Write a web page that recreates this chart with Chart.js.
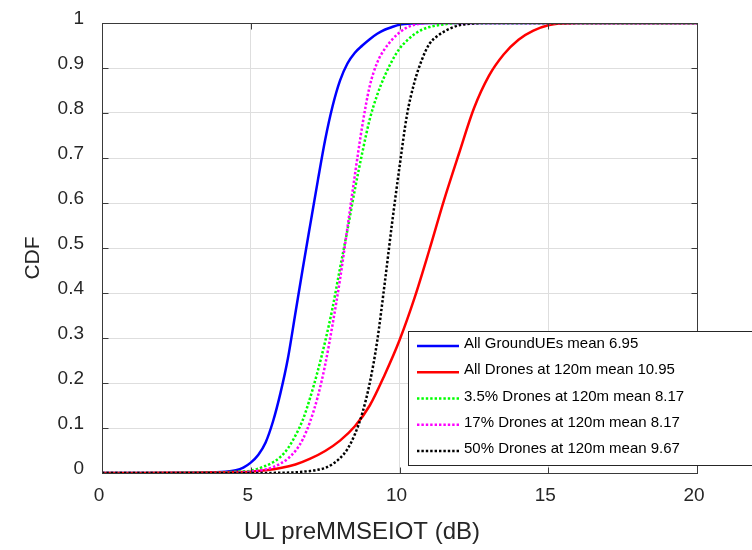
<!DOCTYPE html>
<html><head><meta charset="utf-8">
<script src="https://cdn.jsdelivr.net/npm/chart.js@4.4.0/dist/chart.umd.min.js"></script>
<style>html,body{margin:0;padding:0;background:#fff}canvas{display:block}</style>
</head><body>
<canvas id="c" width="752" height="550"></canvas>
<script>
// ---- data (x in dB, y = CDF) ----
const groundUEsX = [0, 2, 3, 4, 4.5, 4.75, 5, 5.25, 5.5, 5.75, 6, 6.25, 6.5, 6.75, 7, 7.25, 7.5, 7.75, 8, 8.25, 8.5, 8.75, 9, 9.25, 9.5, 9.75, 10, 10.5, 11, 20];
const groundUEsY = [0, 0.0002, 0.0006, 0.002, 0.006, 0.012, 0.023, 0.04, 0.068, 0.115, 0.178, 0.255, 0.355, 0.455, 0.552, 0.648, 0.74, 0.815, 0.872, 0.91, 0.934, 0.95, 0.964, 0.976, 0.985, 0.991, 0.996, 0.999, 1, 1];

const drones120X = [0, 1, 2, 3, 4, 4.5, 5, 5.5, 6, 6.5, 7, 7.5, 8, 8.5, 9, 9.5, 10, 10.5, 11, 11.5, 12, 12.5, 13, 13.5, 14, 14.5, 15, 15.5, 16, 20];
const drones120Y = [0, 0.0002, 0.0004, 0.0008, 0.0015, 0.002, 0.003, 0.006, 0.011, 0.019, 0.032, 0.049, 0.072, 0.104, 0.15, 0.218, 0.295, 0.388, 0.495, 0.607, 0.71, 0.81, 0.882, 0.93, 0.963, 0.983, 0.995, 0.999, 1, 1];

const drones3p5X = [0, 2, 3, 4, 4.5, 5, 5.5, 5.75, 6, 6.25, 6.5, 6.75, 7, 7.25, 7.5, 7.75, 8, 8.25, 8.5, 8.75, 9, 9.25, 9.5, 9.75, 10, 10.25, 10.5, 10.75, 11, 11.5, 12, 20];
const drones3p5Y = [0, 0, 0.0005, 0.001, 0.003, 0.005, 0.016, 0.024, 0.036, 0.055, 0.083, 0.118, 0.168, 0.226, 0.292, 0.367, 0.455, 0.54, 0.63, 0.712, 0.786, 0.84, 0.882, 0.916, 0.943, 0.961, 0.975, 0.985, 0.991, 0.997, 1, 1];

const drones17X = [0, 3, 4, 4.5, 5, 5.5, 5.75, 6, 6.25, 6.5, 6.75, 7, 7.25, 7.5, 7.75, 8, 8.25, 8.5, 8.75, 9, 9.25, 9.5, 9.75, 10, 10.25, 10.5, 11, 20];
const drones17Y = [0, 0, 0.0005, 0.001, 0.003, 0.008, 0.013, 0.021, 0.032, 0.049, 0.075, 0.115, 0.169, 0.24, 0.33, 0.43, 0.545, 0.662, 0.772, 0.86, 0.912, 0.942, 0.963, 0.979, 0.99, 0.996, 1, 1];

const drones50X = [0, 5, 6, 6.5, 7, 7.25, 7.5, 7.75, 8, 8.25, 8.5, 8.75, 9, 9.25, 9.5, 9.75, 10, 10.25, 10.5, 10.75, 11, 11.25, 11.5, 11.75, 12, 12.5, 13, 20];
const drones50Y = [0, 0, 0.0005, 0.0015, 0.0045, 0.007, 0.011, 0.02, 0.033, 0.053, 0.086, 0.133, 0.2, 0.293, 0.42, 0.555, 0.68, 0.795, 0.868, 0.918, 0.953, 0.97, 0.981, 0.989, 0.995, 0.999, 1, 1];

const seriesLabels = ['All GroundUEs mean 6.95', 'All Drones at 120m mean 10.95', '3.5% Drones at 120m mean 8.17', '17% Drones at 120m mean 8.17', '50% Drones at 120m mean 9.67'];
const xTickValues  = [0, 5, 10, 15, 20];
const yTickValues  = [0, 0.1, 0.2, 0.3, 0.4, 0.5, 0.6, 0.7, 0.8, 0.9, 1];
const xTitle = 'UL preMMSEIOT (dB)';
const yTitle = 'CDF';

const FONT = '"Liberation Sans", Arial, Helvetica, sans-serif';
const toPts = (xs, ys) => xs.map((x, i) => ({x: x, y: ys[i]}));

const styles = [
  {color: '#0000ff', dash: [],       order: 5},
  {color: '#ff0000', dash: [],       order: 4},
  {color: '#00ff00', dash: [2.4, 2], order: 3},
  {color: '#ff00ff', dash: [2.4, 2], order: 2},
  {color: '#000000', dash: [2.4, 2], order: 1}
];
const seriesXY = [[groundUEsX, groundUEsY], [drones120X, drones120Y], [drones3p5X, drones3p5Y], [drones17X, drones17Y], [drones50X, drones50Y]];

const datasets = seriesXY.map((s, i) => ({
  label: seriesLabels[i],
  data: toPts(s[0], s[1]),
  borderColor: styles[i].color,
  backgroundColor: styles[i].color,
  borderDash: styles[i].dash,
  borderWidth: 2.5,
  borderCapStyle: 'butt',
  pointRadius: 0,
  fill: false,
  cubicInterpolationMode: 'monotone',
  order: styles[i].order
}));

const framePlugin = {
  id: 'frame',
  afterDatasetsDraw(chart) {
    const {ctx, chartArea: a, scales: {x, y}} = chart;
    const L = Math.round(a.left) + 0.5, R = Math.round(a.right) + 0.5;
    const T = Math.round(a.top) + 0.5, B = Math.round(a.bottom) + 0.5;
    ctx.save();
    ctx.strokeStyle = '#3a3a3a';
    ctx.lineWidth = 1;
    ctx.strokeRect(L, T, R - L, B - T);
    ctx.beginPath();
    const tl = 6;
    xTickValues.forEach(v => {
      const px = Math.round(x.getPixelForValue(v)) + 0.5;
      ctx.moveTo(px, B); ctx.lineTo(px, B - tl);
      ctx.moveTo(px, T); ctx.lineTo(px, T + tl);
    });
    yTickValues.forEach(v => {
      const py = Math.round(y.getPixelForValue(v)) + 0.5;
      ctx.moveTo(L, py); ctx.lineTo(L + tl, py);
      ctx.moveTo(R, py); ctx.lineTo(R - tl, py);
    });
    ctx.stroke();
    ctx.restore();
  },
  afterDraw(chart) {
    const ctx = chart.ctx;
    ctx.save();
    ctx.fillStyle = '#262626';
    ctx.textAlign = 'center';
    ctx.textBaseline = 'middle';
    ctx.font = '24px ' + FONT;
    ctx.fillText(xTitle, 362, 532);
    ctx.translate(33, 258);
    ctx.rotate(-Math.PI / 2);
    ctx.font = '21px ' + FONT;
    ctx.fillText(yTitle, 0, 0);
    ctx.restore();

    ctx.save();
    const x0 = 408.5, y0 = 331.5, w = 400, h = 134;
    ctx.fillStyle = '#ffffff';
    ctx.fillRect(x0, y0, w, h);
    ctx.strokeStyle = '#262626';
    ctx.lineWidth = 1;
    ctx.strokeRect(x0, y0, w, h);
    chart.data.datasets.forEach((ds, i) => {
      const ly = 346 + i * 26.25;
      ctx.strokeStyle = ds.borderColor;
      ctx.lineWidth = ds.borderWidth;
      ctx.setLineDash(ds.borderDash || []);
      ctx.beginPath();
      ctx.moveTo(417, ly); ctx.lineTo(459, ly);
      ctx.stroke();
      ctx.setLineDash([]);
      ctx.fillStyle = '#000000';
      ctx.font = '15px ' + FONT;
      ctx.textAlign = 'left';
      ctx.textBaseline = 'middle';
      ctx.fillText(ds.label, 464, ly - 2);
    });
    ctx.restore();
  }
};

const noPad = s => { s.paddingTop = 0; s.paddingBottom = 0; s.paddingLeft = 0; s.paddingRight = 0; };

new Chart(document.getElementById('c'), {
  type: 'line',
  data: {datasets: datasets},
  options: {
    responsive: false,
    animation: false,
    layout: {padding: {top: 23, right: 55, left: 0, bottom: 0}},
    plugins: {legend: {display: false}, tooltip: {enabled: false}, title: {display: false}},
    scales: {
      x: {
        type: 'linear', min: 0, max: 20,
        afterBuildTicks: s => { s.ticks = xTickValues.map(v => ({value: v})); },
        afterFit: s => { s.height = 77; noPad(s); },
        grid: {color: '#dedede', lineWidth: 1, drawTicks: false},
        border: {display: false},
        ticks: {padding: 11, labelOffset: -3, color: '#262626', font: {family: FONT, size: 19}, maxRotation: 0,
                callback: v => String(v)}
      },
      y: {
        type: 'linear', min: 0, max: 1,
        afterBuildTicks: s => { s.ticks = yTickValues.map(v => ({value: v})); },
        afterFit: s => { s.width = 102; noPad(s); },
        grid: {color: '#dedede', lineWidth: 1, drawTicks: false},
        border: {display: false},
        ticks: {padding: 18, labelOffset: -4, color: '#262626', font: {family: FONT, size: 19},
                callback: v => String(+v.toFixed(1))}
      }
    }
  },
  plugins: [framePlugin]
});
</script>
</body></html>
